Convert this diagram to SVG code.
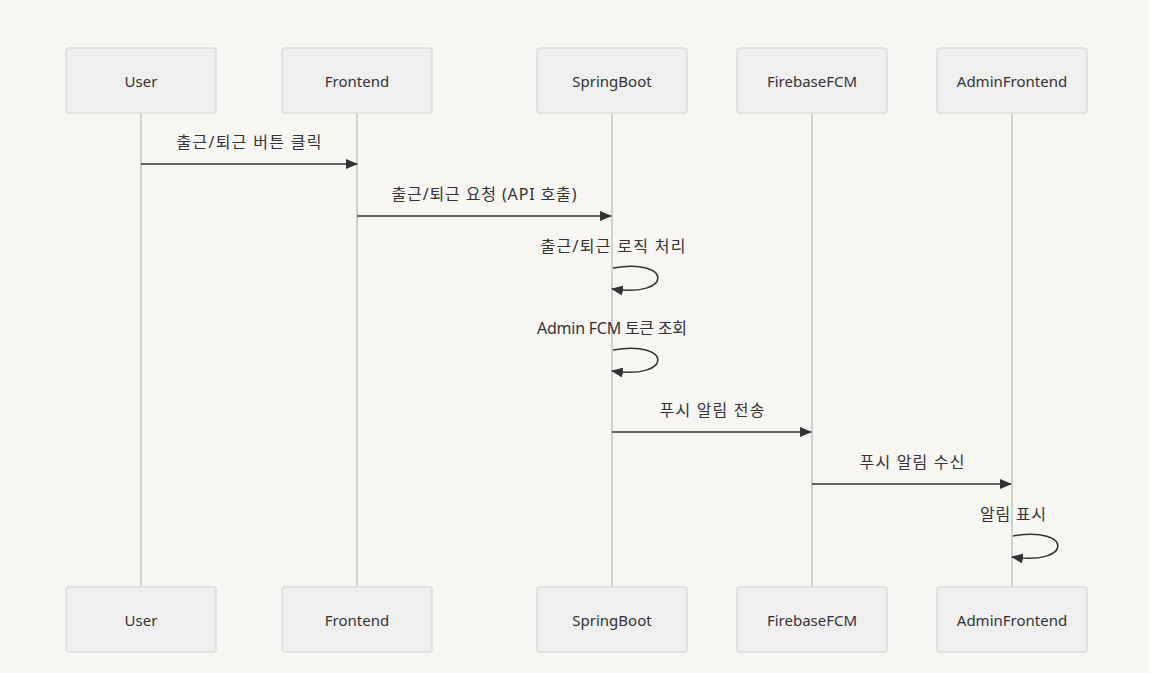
<svg xmlns="http://www.w3.org/2000/svg" width="1149" height="673" viewBox="0 0 1149 673">
<style>
.bg{fill:#f7f6f3}
.actor rect{fill:#efefef;stroke:#dddddd;stroke-width:1.5}
.actor text{font-family:"Noto Sans","Noto Sans CJK KR",sans-serif;font-size:15px;fill:#333;text-anchor:middle;dominant-baseline:central}
.life{stroke:#d0d0d0;stroke-width:2}
.msg{stroke:#333;stroke-width:1.5;fill:none}
.lbl{font-family:"Noto Sans","Noto Sans CJK KR",sans-serif;font-size:16px;fill:#333;text-anchor:middle;dominant-baseline:central}
</style>
<defs>
<marker id="arr" viewBox="0 0 12 10" refX="11" refY="5" markerWidth="12" markerHeight="10" markerUnits="userSpaceOnUse" orient="auto">
<path d="M0,0 L12,5 L0,10 z" fill="#333"/>
</marker>
</defs>
<rect class="bg" x="0" y="0" width="1149" height="673"/>
<g id="lifelines">
<line class="life" x1="141" y1="113" x2="141" y2="587"/>
<line class="life" x1="357" y1="113" x2="357" y2="587"/>
<line class="life" x1="612" y1="113" x2="612" y2="587"/>
<line class="life" x1="812" y1="113" x2="812" y2="587"/>
<line class="life" x1="1012" y1="113" x2="1012" y2="587"/>
</g>
<g id="actor-user-top" class="actor"><rect x="66" y="48" width="150" height="65" rx="3"/><text x="141" y="81">User</text></g>
<g id="actor-frontend-top" class="actor"><rect x="282" y="48" width="150" height="65" rx="3"/><text x="357" y="81">Frontend</text></g>
<g id="actor-springboot-top" class="actor"><rect x="537" y="48" width="150" height="65" rx="3"/><text x="612" y="81">SpringBoot</text></g>
<g id="actor-fcm-top" class="actor"><rect x="737" y="48" width="150" height="65" rx="3"/><text x="812" y="81">FirebaseFCM</text></g>
<g id="actor-admin-top" class="actor"><rect x="937" y="48" width="150" height="65" rx="3"/><text x="1012" y="81">AdminFrontend</text></g>
<g id="actor-user-bottom" class="actor"><rect x="66" y="587" width="150" height="65" rx="3"/><text x="141" y="620">User</text></g>
<g id="actor-frontend-bottom" class="actor"><rect x="282" y="587" width="150" height="65" rx="3"/><text x="357" y="620">Frontend</text></g>
<g id="actor-springboot-bottom" class="actor"><rect x="537" y="587" width="150" height="65" rx="3"/><text x="612" y="620">SpringBoot</text></g>
<g id="actor-fcm-bottom" class="actor"><rect x="737" y="587" width="150" height="65" rx="3"/><text x="812" y="620">FirebaseFCM</text></g>
<g id="actor-admin-bottom" class="actor"><rect x="937" y="587" width="150" height="65" rx="3"/><text x="1012" y="620">AdminFrontend</text></g>
<g id="connectors">
<line class="msg" x1="141" y1="164" x2="357" y2="164" marker-end="url(#arr)"/>
<line class="msg" x1="357" y1="216" x2="611" y2="216" marker-end="url(#arr)"/>
<path class="msg" d="M613,268 C673,258 673,298 612,289" marker-end="url(#arr)"/>
<path class="msg" d="M613,350 C673,340 673,380 612,371" marker-end="url(#arr)"/>
<line class="msg" x1="612" y1="432" x2="811" y2="432" marker-end="url(#arr)"/>
<line class="msg" x1="812" y1="484" x2="1011" y2="484" marker-end="url(#arr)"/>
<path class="msg" d="M1013,536 C1073,526 1073,566 1012,557" marker-end="url(#arr)"/>
</g>
<g id="labels">
<text class="lbl" x="249" y="142" textLength="145" lengthAdjust="spacing">출근/퇴근 버튼 클릭</text>
<text class="lbl" x="484" y="194" textLength="185" lengthAdjust="spacing">출근/퇴근 요청 (API 호출)</text>
<text class="lbl" x="613" y="246" textLength="145" lengthAdjust="spacing">출근/퇴근 로직 처리</text>
<text class="lbl" x="612" y="328" textLength="150" lengthAdjust="spacing">Admin FCM 토큰 조회</text>
<text class="lbl" x="712" y="410" textLength="105" lengthAdjust="spacing">푸시 알림 전송</text>
<text class="lbl" x="912" y="462" textLength="105" lengthAdjust="spacing">푸시 알림 수신</text>
<text class="lbl" x="1013" y="514" textLength="66" lengthAdjust="spacing">알림 표시</text>
</g>
</svg>
